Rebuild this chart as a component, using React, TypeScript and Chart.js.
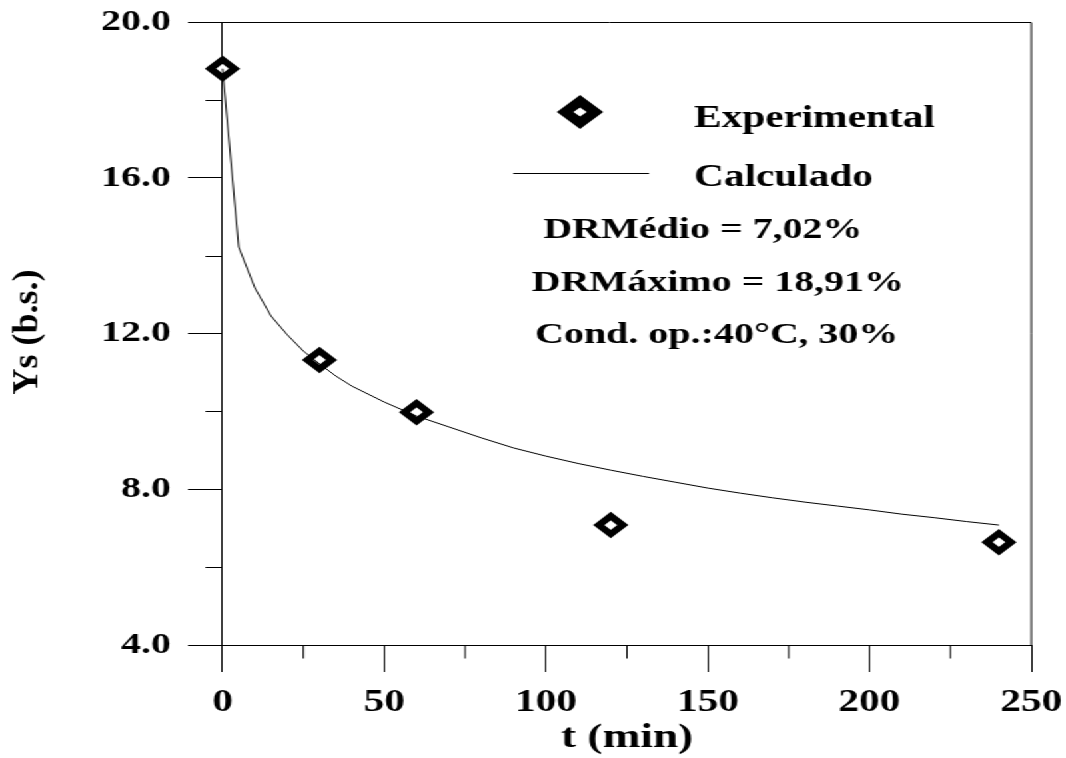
import React, { useEffect, useRef } from 'react';
import { Chart, registerables } from 'chart.js';

Chart.register(...registerables);

// ---- data ----
const tExp = [0, 30, 60, 120, 240];
const yExp = [18.8, 11.32, 9.98, 7.08, 6.64];

const tCalc = [0, 5, 10, 15, 20, 25, 30, 35, 40, 50, 60, 70, 80, 90, 100, 110, 120, 130, 140, 150, 160, 170, 180, 190, 200, 210, 220, 230, 240];
const yCalc = [18.8, 14.22, 13.17, 12.45, 11.97, 11.55, 11.22, 10.91, 10.65, 10.24, 9.88, 9.6, 9.32, 9.06, 8.85, 8.66, 8.49, 8.33, 8.18, 8.03, 7.9, 7.78, 7.67, 7.57, 7.47, 7.36, 7.27, 7.17, 7.08];

const xMajorTicks = [0, 50, 100, 150, 200, 250];
const xMinorTicks = [25, 75, 125, 175, 225];
const yMajorTicks = [4, 8, 12, 16, 20];
const yMinorTicks = [6, 10, 14, 18];

const xTitle = 't (min)';
const yTitle = 'Ys (b.s.)';
const legendLabels = ['Experimental', 'Calculado'];
const noteLines = ['DRMédio = 7,02%', 'DRMáximo = 18,91%', 'Cond. op.:40°C, 30%'];

const LOGICAL_W = 800;
const H = 758;
const S = 1066 / LOGICAL_W;
const FONT = "'Liberation Serif', 'Times New Roman', serif";

export default function App() {
  const ref = useRef<HTMLCanvasElement>(null);

  useEffect(() => {
    const canvas = ref.current;
    if (!canvas) return;

    const overlay = {
      id: 'overlay',
      afterDraw(chart: any) {
        const ctx = chart.ctx as CanvasRenderingContext2D;
        const xs = chart.scales.x;
        const ys = chart.scales.y;
        const ca = chart.chartArea;
        ctx.save();
        ctx.strokeStyle = '#000';
        ctx.fillStyle = '#000';
        ctx.lineWidth = 1;

        // frame: top and right
        const topY = Math.floor(ca.top) + 0.5;
        const bottomY = ys.getPixelForValue(4);
        ctx.beginPath();
        ctx.moveTo(ca.left, topY);
        ctx.lineTo(ca.right, topY);
        ctx.moveTo(ca.right, topY);
        ctx.lineTo(ca.right, bottomY);
        ctx.stroke();

        // minor ticks
        ctx.beginPath();
        const by = Math.round(bottomY) + 0.5;
        for (const v of xMinorTicks) {
          const px = xs.getPixelForValue(v);
          ctx.moveTo(px, by);
          ctx.lineTo(px, by + 13);
        }
        const x0 = xs.getPixelForValue(0);
        for (const v of yMinorTicks) {
          const py = Math.round(ys.getPixelForValue(v)) + 0.5;
          ctx.moveTo(x0, py);
          ctx.lineTo(x0 - 12.8, py);
        }
        ctx.stroke();

        // legend marker (diamond)
        const dcx = 435.3, dcy = 112;
        ctx.beginPath();
        ctx.moveTo(dcx - 17.4, dcy);
        ctx.lineTo(dcx, dcy - 17);
        ctx.lineTo(dcx + 17.4, dcy);
        ctx.lineTo(dcx, dcy + 17);
        ctx.closePath();
        ctx.moveTo(dcx - 5, dcy);
        ctx.lineTo(dcx, dcy - 4.5);
        ctx.lineTo(dcx + 5, dcy);
        ctx.lineTo(dcx, dcy + 4.5);
        ctx.closePath();
        ctx.fill('evenodd');

        // legend line
        ctx.beginPath();
        ctx.moveTo(385.2, 173.5);
        ctx.lineTo(487.1, 173.5);
        ctx.stroke();

        ctx.textAlign = 'left';
        ctx.textBaseline = 'alphabetic';
        ctx.font = `bold 31px ${FONT}`;
        ctx.fillText(legendLabels[0], 520.8, 126.7);
        ctx.fillText(legendLabels[1], 520.8, 186);

        ctx.font = `bold 30px ${FONT}`;
        ctx.fillText(noteLines[0], 407.7, 238.3);
        ctx.fillText(noteLines[1], 399, 290.7);
        ctx.fillText(noteLines[2], 401.5, 343.3);

        // x title
        ctx.textAlign = 'center';
        ctx.font = `bold 34px ${FONT}`;
        ctx.fillText(xTitle, 470.6, 746.5);

        // y title (rotated, compensated for horizontal stretch)
        ctx.save();
        ctx.translate(27.5, 332);
        ctx.scale(1 / S, 1);
        ctx.rotate(-Math.PI / 2);
        ctx.font = `bold 36px ${FONT}`;
        ctx.textAlign = 'center';
        ctx.textBaseline = 'alphabetic';
        ctx.fillText(yTitle, 0, 0);
        ctx.restore();

        ctx.restore();
      },
    };

    const chart = new Chart(canvas, {
      type: 'scatter',
      data: {
        datasets: [
          {
            label: legendLabels[1],
            data: tCalc.map((t, i) => ({ x: t, y: yCalc[i] })),
            showLine: true,
            borderColor: '#000',
            borderWidth: 1,
            pointRadius: 0,
            pointHoverRadius: 0,
            tension: 0,
            fill: false,
          } as any,
          {
            label: legendLabels[0],
            data: tExp.map((t, i) => ({ x: t, y: yExp[i] })),
            showLine: false,
            pointStyle: 'rectRot',
            pointRadius: 9,
            pointHoverRadius: 9,
            borderColor: '#000',
            backgroundColor: '#fff',
            borderWidth: 6,
            pointBorderWidth: 6,
          } as any,
        ],
      },
      options: {
        responsive: false,
        animation: false,
        devicePixelRatio: 1,
        events: [],
        layout: { padding: { left: 0, right: 26, top: 22, bottom: 113 }, autoPadding: false },
        plugins: {
          legend: { display: false },
          tooltip: { enabled: false },
          title: { display: false },
        },
        scales: {
          x: {
            type: 'linear',
            position: { y: 4 } as any,
            min: -10.7,
            max: 250,
            afterBuildTicks: (s: any) => {
              s.ticks = xMajorTicks.map((v) => ({ value: v }));
            },
            afterFit: (s: any) => {
              s.paddingLeft = 0;
              s.paddingRight = 0;
              s.paddingTop = 0;
              s.paddingBottom = 0;
            },
            grid: {
              display: true,
              drawOnChartArea: true,
              drawTicks: true,
              tickLength: 26,
              color: (c: any) => (c.tick && c.tick.value === 0 ? '#000' : 'rgba(0,0,0,0)'),
              lineWidth: 1,
              tickColor: '#000',
              tickWidth: 1,
            },
            border: { display: true, color: '#000', width: 1 },
            ticks: {
              autoSkip: false,
              maxRotation: 0,
              minRotation: 0,
              padding: 13,
              color: '#000',
              font: { family: FONT, size: 31, weight: 'bold' },
              callback: (v: any) => String(v),
            },
          },
          y: {
            type: 'linear',
            position: 'left',
            min: 4,
            max: 20,
            afterBuildTicks: (s: any) => {
              s.ticks = yMajorTicks.map((v) => ({ value: v }));
            },
            afterFit: (s: any) => {
              s.width = 141;
              s.paddingTop = 0;
              s.paddingBottom = 0;
              s.paddingLeft = 0;
              s.paddingRight = 0;
            },
            grid: {
              display: true,
              drawOnChartArea: false,
              drawTicks: true,
              tickLength: -26,
              tickColor: '#000',
              tickWidth: 1,
            },
            border: { display: false },
            ticks: {
              autoSkip: false,
              padding: 38.7,
              color: '#000',
              font: { family: FONT, size: 30, weight: 'bold' },
              callback: (v: any) => Number(v).toFixed(1),
            },
          },
        },
      } as any,
      plugins: [overlay],
    });

    return () => chart.destroy();
  }, []);

  return (
    <div
      style={{
        position: 'absolute',
        left: 0,
        top: 0,
        width: LOGICAL_W,
        height: H,
        transform: `scaleX(${S})`,
        transformOrigin: '0 0',
        background: '#fff',
      }}
    >
      <canvas ref={ref} width={LOGICAL_W} height={H} style={{ display: 'block' }} />
    </div>
  );
}
